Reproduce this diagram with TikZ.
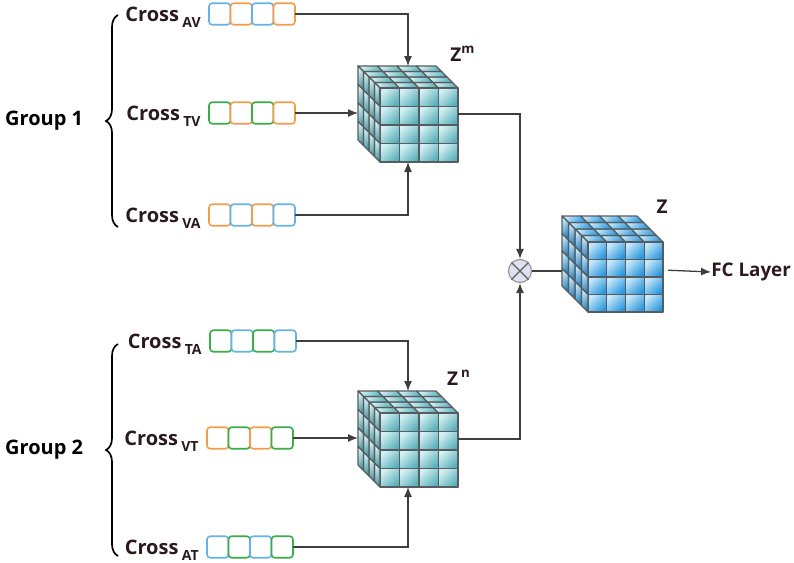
\documentclass[tikz,border=0pt]{standalone}
\usepackage{fontspec}
\setmainfont{Open Sans}
\usepackage{tikz}
\usetikzlibrary{arrows.meta,positioning,calc,decorations.pathreplacing}
\definecolor{seqblue}{RGB}{100,178,232}
\definecolor{seqorange}{RGB}{246,156,72}
\definecolor{seqgreen}{RGB}{58,172,72}
\definecolor{labeldark}{RGB}{42,26,28}
\definecolor{wiregray}{RGB}{62,62,62}
\definecolor{gridgray}{RGB}{88,92,94}
\definecolor{tealdark}{RGB}{88,176,186}
\definecolor{teallight}{RGB}{212,240,243}
\definecolor{bluedark}{RGB}{40,150,222}
\definecolor{bluelight}{RGB}{198,232,250}
\definecolor{otfill}{RGB}{222,225,238}

% 4x4x4 cube: front top-left corner, cell width, cell height, layer offset, light/dark colour
\newcommand{\drawcube}[7]{%
  \foreach \i in {0,...,3}{
    \foreach \j in {0,...,3}{
      \shadedraw[cubegrid, top color=#6, bottom color=#7, shading angle=45]
        ({#1+\i*#3-\j*#5},{#2-\j*#5}) -- ++(#3,0) -- ++(-#5,-#5) -- ++(-#3,0) -- cycle;
      \shadedraw[cubegrid, top color=#6, bottom color=#7!85!black, shading angle=45]
        ({#1-\j*#5},{#2+\i*#4-\j*#5}) -- ++(-#5,-#5) -- ++(0,#4) -- ++(#5,#5) -- cycle;
      \shadedraw[cubegrid, top color=#6, bottom color=#7, shading angle=45]
        ({#1+\i*#3},{#2+\j*#4}) rectangle ++(#3,#4);
    }
  }
}
\newcommand{\crosssub}[1]{Cross\,\raisebox{-3pt}{\fontsize{7}{8}\selectfont #1}}

\begin{document}
\begin{tikzpicture}[
    x=0.5pt, y=-0.5pt,
    tok/.style={draw=#1, fill=white, rounded corners=1.6pt, line width=0.8pt,
      minimum width=10.75pt, minimum height=10.75pt, inner sep=0pt, outer sep=0pt},
    crosslbl/.style={font=\fontsize{10}{12}\selectfont\bfseries, text=labeldark, inner sep=0pt, anchor=east},
    grouplbl/.style={font=\fontsize{10}{12}\selectfont\bfseries, text=black, inner sep=0pt},
    zlbl/.style={font=\fontsize{9.5}{11}\selectfont\bfseries, text=labeldark, inner sep=0pt},
    cubearea/.style={inner sep=0pt, outer sep=0pt},
    cubegrid/.style={draw=gridgray, line width=0.6pt, line join=round},
    brace/.style={decorate, decoration={brace, amplitude=6pt}, line width=0.85pt},
    arr/.style={draw=wiregray, line width=0.65pt, -{Latex[length=5pt,width=4pt]}},
    wire/.style={draw=wiregray, line width=0.65pt},
    otimes/.style={circle, draw=gray!80, fill=otfill, line width=0.6pt, minimum size=11.5pt, inner sep=0pt}
]
\useasboundingbox (0,0) rectangle (794,563);

\drawcube{380}{88}{19.5}{18.5}{5.5}{teallight}{tealdark}
\drawcube{380}{413}{19.5}{18.5}{5.5}{teallight}{tealdark}
\drawcube{588}{242}{18.75}{17.5}{6.5}{bluelight}{bluedark}

\node[cubearea, minimum width=50pt, minimum height=48pt] (zm) at (408,114) {};
\node[cubearea, minimum width=50pt, minimum height=48pt] (zn) at (408,439) {};
\node[cubearea, minimum width=50.5pt, minimum height=48pt] (z) at (612.5,270) {};
\node[zlbl] (zmlbl) at (463,54) {Z\textsuperscript{m}};
\node[zlbl] (znlbl) at (459,378) {Z\,\textsuperscript{n}};
\node[zlbl] (zlbl) at (662,207) {Z};

\node[tok=seqblue, anchor=west] (av1) at (209,14) {};
\node[tok=seqorange, right=0pt of av1] (av2) {};
\node[tok=seqblue, right=0pt of av2] (av3) {};
\node[tok=seqorange, right=0pt of av3] (av4) {};
\node[crosslbl, left=4pt of av1, yshift=-1.5pt] (lav) {\crosssub{AV}};

\node[tok=seqgreen, anchor=west] (tv1) at (209,113) {};
\node[tok=seqorange, right=0pt of tv1] (tv2) {};
\node[tok=seqgreen, right=0pt of tv2] (tv3) {};
\node[tok=seqorange, right=0pt of tv3] (tv4) {};
\node[crosslbl, left=4pt of tv1, yshift=-1.5pt] (ltv) {\crosssub{TV}};

\node[tok=seqorange, anchor=west] (va1) at (209,215) {};
\node[tok=seqblue, right=0pt of va1] (va2) {};
\node[tok=seqorange, right=0pt of va2] (va3) {};
\node[tok=seqblue, right=0pt of va3] (va4) {};
\node[crosslbl, left=4pt of va1, yshift=-1.5pt] (lva) {\crosssub{VA}};

\node[tok=seqgreen, anchor=west] (ta1) at (210,341) {};
\node[tok=seqblue, right=0pt of ta1] (ta2) {};
\node[tok=seqgreen, right=0pt of ta2] (ta3) {};
\node[tok=seqblue, right=0pt of ta3] (ta4) {};
\node[crosslbl, left=4pt of ta1, yshift=-1.5pt] (lta) {\crosssub{TA}};

\node[tok=seqorange, anchor=west] (vt1) at (207,438) {};
\node[tok=seqgreen, right=0pt of vt1] (vt2) {};
\node[tok=seqorange, right=0pt of vt2] (vt3) {};
\node[tok=seqgreen, right=0pt of vt3] (vt4) {};
\node[crosslbl, left=4pt of vt1, yshift=-1.5pt] (lvt) {\crosssub{VT}};

\node[tok=seqblue, anchor=west] (at1) at (207,547) {};
\node[tok=seqgreen, right=0pt of at1] (at2) {};
\node[tok=seqblue, right=0pt of at2] (at3) {};
\node[tok=seqgreen, right=0pt of at3] (at4) {};
\node[crosslbl, left=4pt of at1, yshift=-1.5pt] (lat) {\crosssub{AT}};

\draw[brace] (118,227) -- node[grouplbl, left=17pt] (grp1) {Group 1} (118,15);
\draw[brace] (118,556) -- node[grouplbl, left=17pt] (grp2) {Group 2} (118,344);

\node[otimes] (ot) at (520,271) {};
\draw[gray!75!black, line width=0.6pt] (ot.45) -- (ot.225) (ot.135) -- (ot.315);
\node[grouplbl, anchor=west, text=labeldark, font=\fontsize{9.4}{11}\selectfont\bfseries] (fc) at (711,272) {FC Layer};

\draw[arr] (av4.east) -| (zm.north);
\draw[arr] (tv4.east) -- (tv4.east -| zm.west);
\draw[arr] (va4.east) -| (zm.south);
\draw[arr] (ta4.east) -| (zn.north);
\draw[arr] (vt4.east) -- (vt4.east -| zn.west);
\draw[arr] (at4.east) -| (zn.south);
\draw[arr] (zm.east) -| (ot.north);
\draw[arr] (zn.east) -| (ot.south);
\draw[wire] (ot.east) -- (ot.east -| z.west);
\draw[arr, shorten <=2.5pt] (z.east) -- (fc.west);
\end{tikzpicture}
\end{document}
